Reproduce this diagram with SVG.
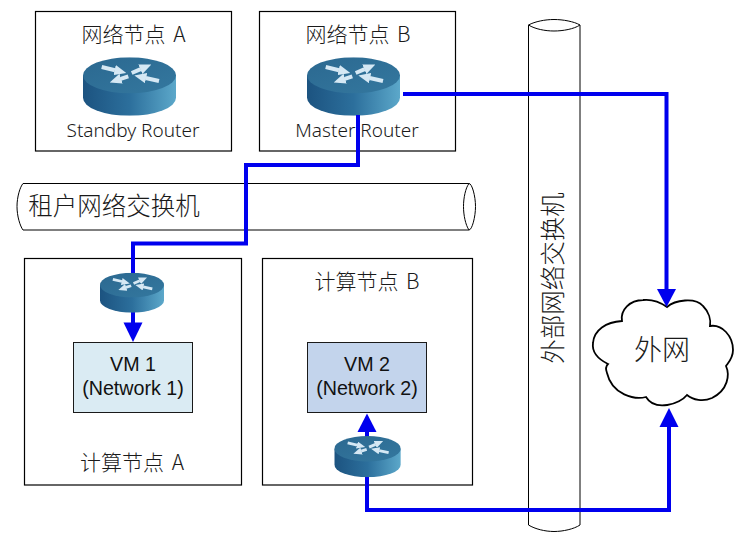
<svg xmlns="http://www.w3.org/2000/svg" width="750" height="544" viewBox="0 0 750 544">
<style>
.box{fill:#fff;stroke:#000;stroke-width:1.2}
.cyl{fill:#fff;stroke:#000;stroke-width:1}
.t{font-family:"Noto Sans CJK SC","Noto Sans",sans-serif;font-weight:300;fill:#1a1a1a;text-anchor:middle}
.n{font-size:21px;word-spacing:3px}
.s{font-size:19px;font-family:"Noto Sans","Noto Sans CJK SC",sans-serif}
.l{font-size:24.5px}
.vm{font-family:"Liberation Sans",Arial,sans-serif;font-size:19.7px;fill:#111;text-anchor:middle}
.link{fill:none;stroke:#0000ee;stroke-width:4;stroke-linejoin:miter}
.ra{stroke:#d5e8f4;stroke-width:4;marker-end:url(#ah)}
</style>
<defs>
<linearGradient id="side" x1="0" x2="1" y1="0" y2="0">
<stop offset="0" stop-color="#1c5380"/><stop offset="0.5" stop-color="#2c6f9c"/><stop offset="1" stop-color="#5ca8ca"/>
</linearGradient>
<linearGradient id="top" x1="0" x2="1" y1="0" y2="1">
<stop offset="0" stop-color="#2b6890"/><stop offset="1" stop-color="#34789f"/>
</linearGradient>
<marker id="ah" markerUnits="strokeWidth" markerWidth="3" markerHeight="2.6" refX="0.1" refY="1.3" orient="auto" viewBox="0 0 3 2.6">
<path d="M0,0 L3,1.3 L0,2.6 Z" fill="#d5e8f4"/>
</marker>
<symbol id="router" viewBox="0 0 93 58.5" preserveAspectRatio="none">
<path d="M0,18 V40.5 A46.5,18 0 0 0 93,40.5 V18 Z" fill="url(#side)"/>
<ellipse cx="46.5" cy="18" rx="46.5" ry="18" fill="url(#top)"/>
<line class="ra" x1="18.7" y1="9.7" x2="32" y2="12.9"/>
<line class="ra" x1="48.7" y1="15.7" x2="57.7" y2="11.8"/>
<line class="ra" x1="45.3" y1="19" x2="37.7" y2="21.5"/>
<line class="ra" x1="76" y1="23.7" x2="62.7" y2="20.7"/>
</symbol>
</defs>
<rect width="750" height="544" fill="#fff"/>

<g id="node-network-a">
<rect class="box" x="35.5" y="11.5" width="196" height="139.5"/>
<text class="t n" x="133.5" y="42">网络节点 A</text>
<use href="#router" x="83" y="57.3" width="93" height="58.5"/>
<text class="t s" x="133" y="137">Standby Router</text>
</g>
<g id="node-network-b">
<rect class="box" x="259.5" y="11.5" width="196" height="139.5"/>
<text class="t n" x="358" y="42">网络节点 B</text>
<use href="#router" x="307" y="57.3" width="93" height="58.5"/>
<text class="t s" x="357" y="137">Master Router</text>
</g>
<g id="node-tenant-switch">
<path class="cyl" d="M23,183.5 H469 C472,183.5 475.5,196 475.5,206.5 C475.5,217 472,230 469,230 H23 C20,226 17,216 17,206.5 C17,197 20,187 23,183.5 Z"/>
<path class="cyl" d="M469,183.5 C465.5,188 463.5,198 463.5,206.5 C463.5,215 465.5,225 469,230"/>
<text class="t l" x="114" y="215">租户网络交换机</text>
</g>
<g id="node-external-switch">
<path class="cyl" d="M528.5,25 C535,21.5 545,19.5 554,19.5 C563,19.5 574,21.5 580,25 V525 C574,529 563,531.5 554,531.5 C545,531.5 535,529 528.5,525 Z"/>
<path class="cyl" d="M528.5,25 C535,29 545,31 554,31 C563,31 574,29 580,25"/>
<text class="t l" transform="translate(553 278) rotate(-90)" y="8.5">外部网络交换机</text>
</g>
<g id="node-compute-a">
<rect class="box" x="24.5" y="258.5" width="217" height="226.5"/>
<text class="t n" x="132" y="470">计算节点 A</text>
</g>
<g id="node-compute-b">
<rect class="box" x="262.5" y="258.5" width="210" height="226.5"/>
<text class="t n" x="367" y="289">计算节点 B</text>
</g>
<g id="node-vm1">
<rect x="73.5" y="342.5" width="119" height="70" fill="#daebf3" stroke="#1a1a1a" stroke-width="1"/>
<text class="vm" x="133" y="370.5">VM 1</text>
<text class="vm" x="133" y="394.5">(Network 1)</text>
</g>
<g id="node-vm2">
<rect x="307.5" y="342.5" width="119" height="70" fill="#c3d4ec" stroke="#1a1a1a" stroke-width="1"/>
<text class="vm" x="367" y="370.5">VM 2</text>
<text class="vm" x="367" y="394.5">(Network 2)</text>
</g>
<g id="node-internet">
<path d="M667,307 C675,300 695,297 703,306 C709,312 711,320 710,326 C722,324 733,336 733,350 C733,358 729,362 726,366 C730,375 728,390 712,398 C703,402 693,400 687,395 C680,404 655,412 646,397 C635,400 612,395 607,373 C605,368 606,366 608,364 C596,358 592,350 593,343 C594,330 606,322 622,321 C620,310 630,300 643,300 C652,299 660,302 667,307 Z" fill="#fff" stroke="#000" stroke-width="1.8"/>
<text class="t" style="font-size:28px" x="662" y="360">外网</text>
</g>
<g id="connectors">
<path class="link" d="M358,115 V165 H246 V243.5 H133 V273"/>
<path class="link" d="M133,312 V325"/>
<polygon points="123.5,322.5 142.5,322.5 133,342" fill="#0000ee"/>
<path class="link" d="M403,94 H666.5 V291"/>
<polygon points="657,289 676,289 666.5,307" fill="#0000ee"/>
<path class="link" d="M367,477 V510 H669 V425"/>
<polygon points="659.5,427 678.5,427 669,408" fill="#0000ee"/>
<path class="link" d="M367,437 V430"/>
<polygon points="357.5,432 376.5,432 367,413.5" fill="#0000ee"/>
</g>
<g id="node-router-vm1">
<use href="#router" x="100" y="272.7" width="64" height="40"/>
</g>
<g id="node-router-vm2">
<use href="#router" x="334.3" y="436" width="66.5" height="41.3"/>
</g>
</svg>
